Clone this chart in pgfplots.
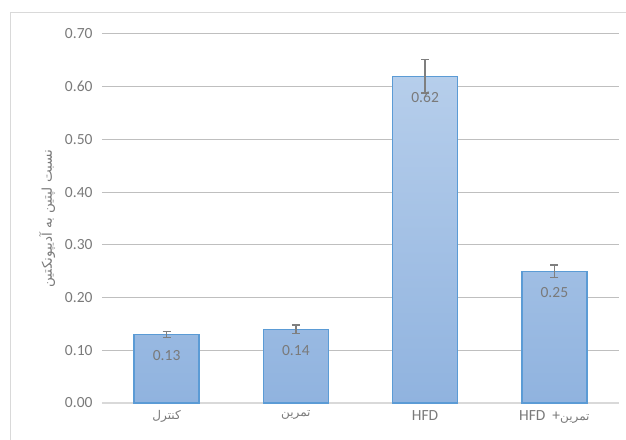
\documentclass[border=0pt]{standalone}
\usepackage{fontspec}
\usepackage{pgfplots}
\pgfplotsset{compat=1.18}
\setmainfont{Carlito}
\newfontfamily\fa[Script=Arabic]{DejaVu Sans}
\TeXXeTstate=1
\definecolor{txt}{HTML}{7A7A7A}
\definecolor{grid}{HTML}{D9D9D9}
\definecolor{barline}{HTML}{5B9BD5}
\definecolor{bartop}{HTML}{B6CEEB}
\definecolor{barbot}{HTML}{90B3DF}
\definecolor{errc}{HTML}{7F7F7F}
\begin{document}
\begin{tikzpicture}
\draw[grid, line width=0.8bp] (10bp,0) -- (10bp,428bp) -- (626bp,428bp);
\begin{axis}[
  at={(102bp,37bp)}, anchor=south west,
  scale only axis, width=517bp, height=369bp,
  ymin=0, ymax=0.70, xmin=-0.5, xmax=3.5,
  ytick={0,0.1,0.2,0.3,0.4,0.5,0.6,0.7},
  yticklabel style={/pgf/number format/fixed, /pgf/number format/fixed zerofill, /pgf/number format/precision=2, /pgf/number format/assume math mode=true},
  yticklabel style={font=\fontsize{15.5bp}{17bp}\selectfont, text=txt},
  xticklabel style={font=\fontsize{15.5bp}{17bp}\selectfont, text=txt},
  xtick={0,1,2,3},
  xticklabels={{\fa\fontsize{12bp}{14bp}\selectfont\beginR کنترل\endR},{\fa\fontsize{12bp}{14bp}\selectfont\beginR تمرین\endR},{HFD},{HFD\ \ +{\fa\fontsize{12bp}{14bp}\selectfont\beginR تمرین\endR}}},
  major tick length=0pt,
  xmajorgrids=false, ymajorgrids=true, grid style={grid, line width=1bp},
  axis line style={draw=none},
  axis x line*=bottom, axis y line*=left,
  yticklabel shift=6bp,
  xticklabel shift=4bp,
  every axis y label/.style={at={(axis description cs:-0.106,0.5)}, rotate=90, anchor=center},
  ylabel={\fa\fontsize{13.5bp}{15bp}\selectfont\beginR نسبت لپتین به آدیپونکتین\endR},
  ylabel style={text=txt},
  ybar, bar width=65bp,
  clip=false,
]
\draw[grid, line width=1.2bp] (rel axis cs:0,0) -- (rel axis cs:1,0);
\addplot[
  draw=barline, line width=1.3bp, top color=bartop, bottom color=barbot,
  nodes near coords,
  nodes near coords style={font=\fontsize{15.5bp}{17bp}\selectfont, text=txt, anchor=north, yshift=-12bp,
    /pgf/number format/fixed, /pgf/number format/fixed zerofill, /pgf/number format/precision=2, /pgf/number format/assume math mode=true},
  error bars/.cd, y dir=both, y explicit,
  error bar style={errc, line width=1.3bp},
  error mark options={errc, line width=1.3bp, rotate=90, mark size=4bp},
] coordinates {
  (0,0.13) +- (0,0.006)
  (1,0.14) +- (0,0.008)
  (2,0.62) +- (0,0.032)
  (3,0.25) +- (0,0.012)
};
\end{axis}
\pgfresetboundingbox
\path (0,0) rectangle (626bp,440bp);
\end{tikzpicture}
\end{document}
